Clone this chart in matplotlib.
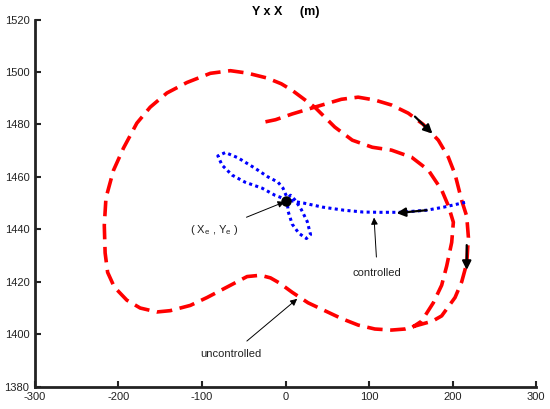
import matplotlib
matplotlib.use('Agg')
from matplotlib import pyplot as plt

plt.rcParams['font.family'] = ['Liberation Sans', 'DejaVu Sans']
plt.rcParams['mathtext.fontset'] = 'custom'
plt.rcParams['mathtext.rm'] = 'Liberation Sans'
plt.rcParams['axes.unicode_minus'] = False

# uncontrolled trajectory (red, dashed)
red_x = [-24, -12, 8, 35, 67, 87, 107, 127, 147, 165, 183, 195, 203, 211, 217, 219,
         217, 211, 203, 187, 176, 159, 143, 127, 107, 87, 67, 47, 27, 8, -7, -18,
         -30, -46, -70, -94, -114, -138, -154, -174, -190, -205, -213, -216, -217,
         -215, -206, -194, -178, -162, -142, -118, -90, -66, -46, -22, -5, 8, 35,
         59, 80, 104, 127, 151, 171, 187, 195, 201, 199, 193, 187, 177, 163, 152]
red_y = [1481, 1481.8, 1484, 1486.6, 1489.6, 1490.4, 1489.3, 1487.4, 1484.3, 1480,
         1474, 1467.5, 1461, 1451, 1445, 1437, 1427, 1420, 1414, 1407, 1405, 1403.5,
         1402, 1401.6, 1402, 1403.5, 1406, 1409, 1412, 1416, 1419.5, 1421.5, 1422.5,
         1422, 1418, 1414, 1411, 1409, 1408.5, 1410, 1413, 1418, 1423.6, 1431,
         1441.5, 1452, 1462.5, 1471, 1480.5, 1486.6, 1492, 1496, 1499.5, 1500.5,
         1499.6, 1497.7, 1495.5, 1493, 1486.6, 1479, 1474, 1471.3, 1470.2, 1467.5,
         1462.6, 1455, 1449, 1442.7, 1435, 1426, 1418.7, 1412, 1405, 1402.7]

# controlled trajectory (blue, dotted)
blue_x = [215, 190, 169, 137, 113, 93, 70, 44, 22, 11, 0, -12.6, -28, -48.5, -64,
          -76, -81, -72, -57, -36.5, -21, -9, -3, 2, 3, 8, 16, 25, 30, 26, 19, 12, 6, 0]
blue_y = [1450.3, 1448.5, 1447.3, 1446.5, 1446.5, 1446.6, 1447.3, 1448.5, 1450,
          1450.6, 1451.5, 1453, 1455.7, 1458, 1460.7, 1464.5, 1468, 1469.3, 1467.3,
          1463.3, 1460, 1458, 1455.7, 1452, 1447, 1442, 1438.5, 1436.5, 1438, 1443,
          1447.5, 1451, 1453, 1451]

# equilibrium point
xe, ye = 0, 1451

# direction arrows along the curves: (tail, head)
dir_arrows = [((155, 1483), (176, 1476.5)),
              ((217, 1434), (217, 1424.5)),
              ((169, 1447.3), (133, 1446.2))]

# labels: text, text position, arrow head
labels = [('( $\\mathrm{X_e}$ , $\\mathrm{Y_e}$ )', (-85, 1439.7), (-1, 1450.5)),
          ('controlled', (110, 1423.3), (106, 1444.5)),
          ('uncontrolled', (-65, 1392.4), (14, 1413.5))]

fig = plt.figure(figsize=(5.5, 4.09), dpi=100)
ax = fig.add_axes([0.0636, 0.0545, 0.911, 0.8977])

ax.plot(red_x, red_y, color='#ff0000', lw=2.6, dashes=(4.3, 2.1))
ax.plot(blue_x, blue_y, color='#0000ff', lw=2.2, dashes=(1, 1.1))
ax.plot([xe], [ye], 'o', color='k', ms=6.5)

for tail, head in dir_arrows:
    ax.annotate('', xy=head, xytext=tail,
                arrowprops=dict(arrowstyle='-|>', color='k', lw=1.6,
                                mutation_scale=13, shrinkA=0, shrinkB=0))

for txt, pos, head in labels:
    ax.annotate(txt, xy=head, xytext=pos, fontsize=8, ha='center', va='center',
                color='#222222',
                arrowprops=dict(arrowstyle='-|>', color='k', lw=0.7,
                                mutation_scale=10, shrinkA=6, shrinkB=0))

ax.set_xlim(-300, 300)
ax.set_ylim(1380, 1520)
ax.set_xticks(range(-300, 301, 100))
ax.set_yticks(range(1380, 1521, 20))
for s in ['top', 'right']:
    ax.spines[s].set_visible(False)
for s in ['left', 'bottom']:
    ax.spines[s].set_linewidth(2)
    ax.spines[s].set_color('#222222')
ax.tick_params(direction='in', length=4, width=1.5, labelsize=8, colors='#222222',
               pad=4)

ax.set_title('Y x X     (m)', fontsize=9, fontweight='bold', pad=3)

fig.savefig('out.png', dpi=100)
